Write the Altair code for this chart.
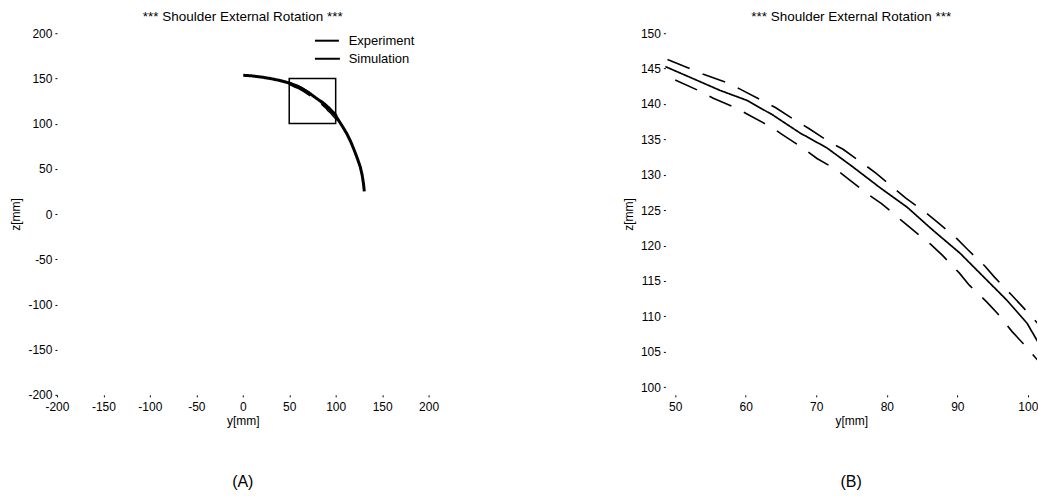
import altair as alt
import pandas as pd

FONT = "Liberation Sans"
TITLE = "*** Shoulder External Rotation ***"
SERIES = ["Experiment", "Simulation"]

# Simulated shoulder trajectory in the y-z plane (mm)
sim_y = [0.5, 10, 20, 30, 40, 48.8, 56.4, 60.2, 63.9, 67.7, 71.5, 75.2, 79.0, 82.9,
         86.5, 90.4, 94.2, 97.0, 99.9, 101.3, 104, 108, 112, 116, 120, 123.5, 126.5,
         128.5, 130, 130.8]
sim_z = [153.5, 152.8, 151.5, 149.8, 147.7, 145.2, 141.9, 140.5, 138.4, 135.9, 133.8,
         131.1, 128.2, 125.4, 122.2, 118.9, 115.1, 112.3, 109.0, 106.6, 102.2, 95.8,
         88.8, 80.5, 70.5, 61, 52, 43, 33, 25]

# Measured trajectory: upper and lower traces
exp_hi_y = [48.9, 54.0, 57.1, 59.2, 62.3, 64.2, 67.0, 69.0, 71.9, 73.8, 76.6, 78.5,
            81.0, 82.7, 85.6, 87.3, 89.9, 91.5, 93.9, 95.3, 97.7, 99.3, 101.4]
exp_hi_z = [146.3, 144.2, 143.1, 142.1, 140.5, 139.5, 137.7, 136.5, 134.6, 133.6,
            131.6, 130.2, 128.1, 126.7, 124.6, 123.2, 121.0, 119.4, 117.1, 115.5,
            113.0, 111.3, 109.0]
exp_lo_y = [50.0, 53.3, 55.4, 58.5, 60.5, 63.5, 65.3, 68.2, 70.1, 72.9, 74.8, 77.4,
            79.3, 81.9, 83.7, 86.2, 87.9, 90.3, 91.7, 94.2, 95.7, 97.8, 99.3, 101.4]
exp_lo_z = [143.4, 141.9, 140.8, 139.5, 138.4, 136.8, 135.6, 133.7, 132.3, 130.7,
            129.2, 127.2, 125.9, 123.7, 122.2, 120.2, 118.6, 116.1, 114.4, 112.0,
            110.4, 107.8, 106.2, 103.8]

# Zoom window marked in the overview panel
box_y = [50, 100]
box_z = [100, 150]

sim = pd.DataFrame({"y": sim_y, "z": sim_z, "series": "Simulation", "trace": "sim"})
exp = pd.concat([
    pd.DataFrame({"y": exp_hi_y, "z": exp_hi_z, "series": "Experiment", "trace": "hi"}),
    pd.DataFrame({"y": exp_lo_y, "z": exp_lo_z, "series": "Experiment", "trace": "lo"}),
])
box = pd.DataFrame({"y0": [box_y[0]], "y1": [box_y[1]], "z0": [box_z[0]], "z1": [box_z[1]]})

W, H = 372, 362

legend = alt.Legend(
    title=None, orient="none", legendX=257, legendY=0,
    labelFont=FONT, labelFontSize=13, labelColor="black",
    symbolType="M-1,0H3", symbolSize=156, symbolStrokeWidth=2,
    symbolStrokeColor="black", labelOffset=20, rowPadding=3,
)
color = alt.Color("series:N", scale=alt.Scale(domain=SERIES, range=["black", "black"]),
                  legend=legend)
dash = alt.StrokeDash("series:N",
                      scale=alt.Scale(domain=SERIES, range=[[24, 14], [1, 0]]),
                      legend=legend)

# plain hyphen for negative tick labels
HYPHEN = "datum.value < 0 ? '-' + abs(datum.value) : '' + datum.value"


def panel(xdom, xticks, ydom, yticks, sim_width, caption, with_box):
    x = alt.X("y:Q", scale=alt.Scale(domain=xdom, nice=False, zero=False),
              axis=alt.Axis(values=xticks, title="y[mm]", labelFlush=False,
                            labelExpr=HYPHEN))
    y = alt.Y("z:Q", scale=alt.Scale(domain=ydom, nice=False, zero=False),
              axis=alt.Axis(values=yticks, title="z[mm]", labelFlush=False,
                            labelExpr=HYPHEN))
    layers = [
        alt.Chart(exp).mark_line(strokeWidth=1.6, clip=True).encode(
            x=x, y=y, color=color, strokeDash=dash, detail="trace:N"),
        alt.Chart(sim).mark_line(strokeWidth=sim_width, clip=True).encode(
            x=x, y=y, color=color, strokeDash=dash),
    ]
    if with_box:
        layers.append(
            alt.Chart(box).mark_rect(fillOpacity=0, stroke="black", strokeWidth=1.5).encode(
                x="y0:Q", x2="y1:Q", y="z0:Q", y2="z1:Q"))
    layers.append(
        alt.Chart(pd.DataFrame({"t": [caption]})).mark_text(
            font=FONT, fontSize=16, color="black").encode(
            text="t:N", x=alt.value(W / 2), y=alt.value(H + 87)))
    return alt.layer(*layers).properties(
        width=W, height=H,
        title=alt.TitleParams(TITLE, font=FONT, fontSize=13.5, fontWeight="normal",
                              anchor="middle", offset=4, color="black"),
    )


left = panel([-200, 200], list(range(-200, 201, 50)), [-200, 200],
             list(range(-200, 201, 50)), 3, "(A)", True)
right = panel([48.6, 101.3], list(range(50, 101, 10)), [98.9, 150],
              list(range(100, 151, 5)), 1.7, "(B)", False)

chart = alt.hconcat(left, right, spacing=182).properties(
    padding={"left": 9, "top": 9, "right": 0, "bottom": 0},
    background="white",
).configure_view(stroke=None).configure_axis(
    domain=False, grid=False, ticks=True, tickSize=2, tickColor="black",
    labelFont=FONT, labelFontSize=12, labelColor="black", labelPadding=3,
    titleFont=FONT, titleFontSize=12, titleFontWeight="normal", titleColor="black",
    titlePadding=5,
).configure_axisX(labelPadding=5, titlePadding=3)

chart.save("out.html", embed_options={"renderer": "svg", "actions": False})
